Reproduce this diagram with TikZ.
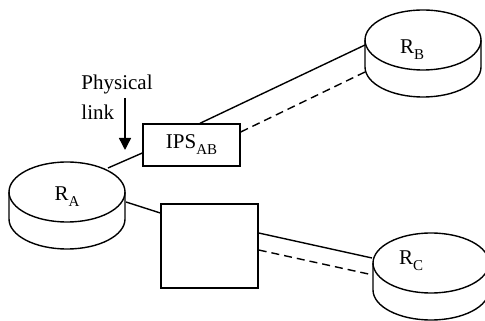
\documentclass[tikz,border=0pt]{standalone}
\usepackage{fontspec}
\setmainfont{Liberation Serif}
\usetikzlibrary{calc,arrows.meta}
\newcommand{\lowsub}[1]{\raisebox{-3pt}{\fontsize{7.5}{8}\selectfont #1}}

\begin{document}
\begin{tikzpicture}[x=0.5pt, y=0.5pt,
    every node/.style={font=\fontsize{10.5}{15}\selectfont},
    box/.style={draw=black, line width=0.7pt, minimum width=48.5pt, minimum height=21pt, inner sep=0pt},
    link/.style={line width=0.7pt},
    backup/.style={line width=0.7pt, dash pattern=on 4pt off 2.5pt}
]
    \useasboundingbox (0,0) rectangle (485,320);
    \def\rx{58}
    \def\ry{30}
    \def\dep{27}
    % Routers as cylinders
    \foreach \x/\y in {67/128, 423/280, 431/57} {
        \draw[link] (\x,\y) ellipse [x radius=\rx, y radius=\ry];
        \draw[link] (\x-\rx,\y) -- ++(0,-\dep)
            arc[start angle=180, end angle=360, x radius=\rx, y radius=\ry] -- ++(0,\dep);
    }
    \node (rA) at (67,123) {R\lowsub{A}};
    \node (rB) at (412,270) {R\lowsub{B}};
    \node (rC) at (411,59) {R\lowsub{C}};
    % Ports on the routers
    \coordinate (pA1) at (108,152);
    \coordinate (pA2) at (126,118);
    \coordinate (pB1) at (365,275);
    \coordinate (pB2) at (365,248);
    \coordinate (pC1) at (372,62);
    \coordinate (pC2) at (373,45);
    % Boxes
    \node[box] (ips) at (191.5,175) {IPS\lowsub{AB}};
    \node[box, minimum height=42pt] (sw) at (209.5,74) {};
    % Links
    \draw[link] (pA1) -- ($(ips.west)+(0,-8)$);
    \draw[link] ($(ips.north)+(8.5,0)$) -- (pB1);
    \draw[backup] ($(ips.east)+(0,13)$) -- (pB2);
    \draw[link] (pA2) -- ($(sw.west)+(0,33)$);
    \draw[link] ($(sw.east)+(0,13)$) -- (pC1);
    \draw[backup] ($(sw.east)+(0,-4)$) -- (pC2);
    % Physical link label
    \node[align=left] (phys) at (117,223) {Physical\\link};
    \coordinate (arrtop) at (125,222);
    \coordinate (arrtip) at (125,170);
    \draw[link, -{Triangle[length=6pt, width=6pt]}] (arrtop) -- (arrtip);
\end{tikzpicture}
\end{document}
